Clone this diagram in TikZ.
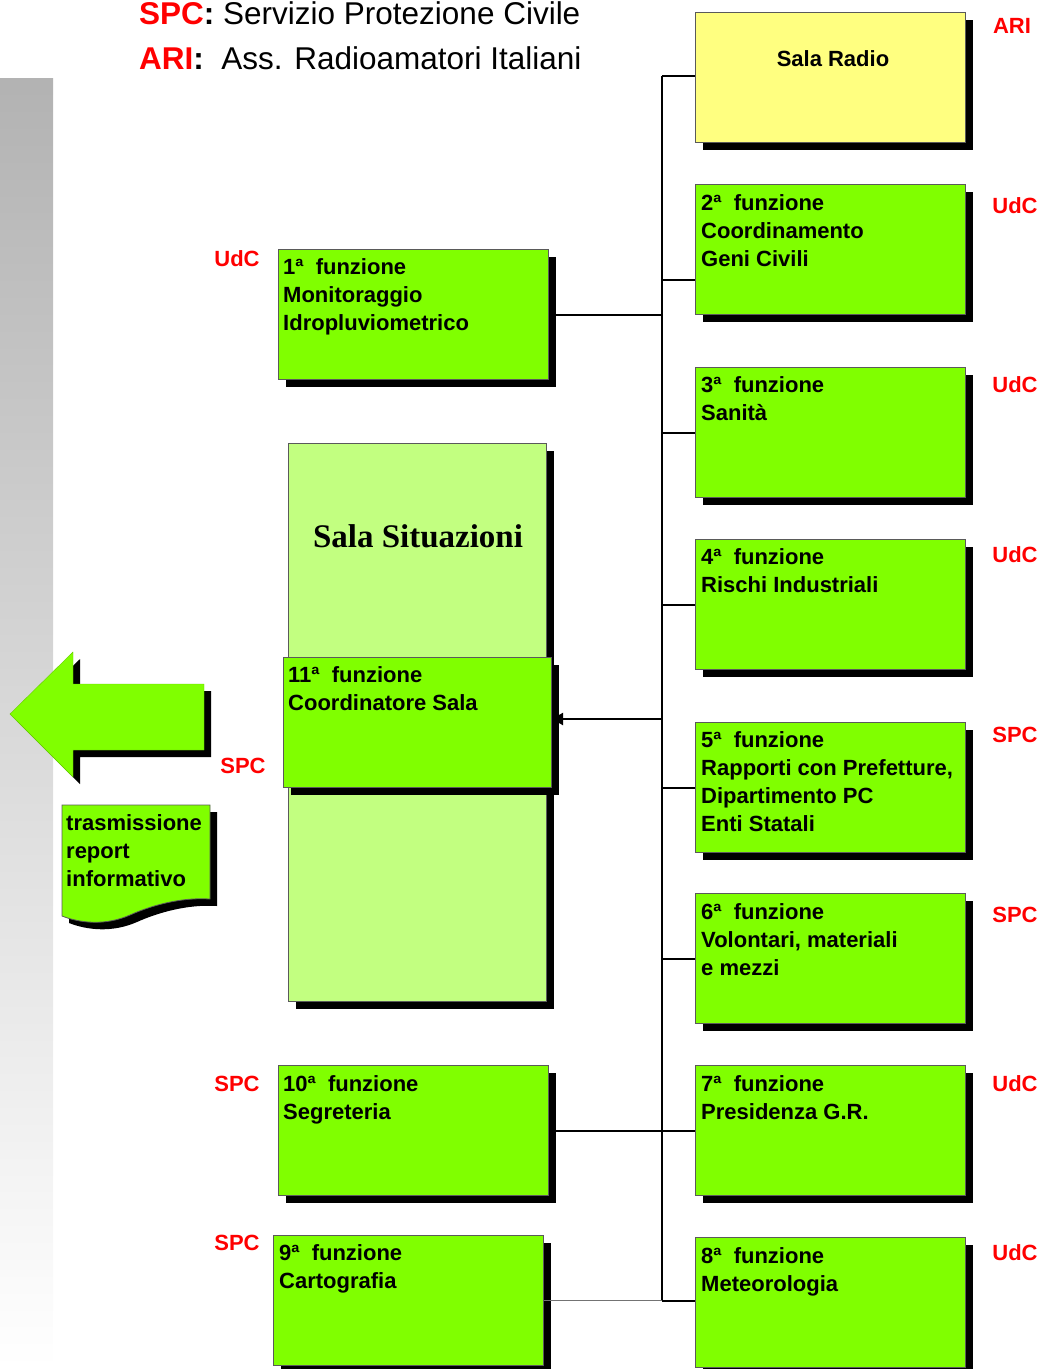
\documentclass[tikz,border=0pt]{standalone}
\usepackage{fontspec}
\setmainfont{Liberation Sans}
\newfontfamily\serifbold{Liberation Serif}
\usetikzlibrary{shadows,arrows.meta}
\definecolor{fgreen}{RGB}{128,255,0}
\definecolor{lgreen}{RGB}{194,255,128}
\definecolor{lyellow}{RGB}{255,255,128}
\definecolor{lred}{RGB}{255,0,0}
\definecolor{bordergray}{RGB}{90,90,90}
\newcommand{\boxfont}{\fontsize{22}{28}\selectfont\bfseries}
\begin{document}
\begin{tikzpicture}[x=1pt,y=-1pt,
  shad/.style={general shadow={fill=black, shadow xshift=7pt, shadow yshift=-7pt}},
  fbox/.style={shad, draw=bordergray, line width=1pt, fill=fgreen, anchor=north west,
     inner sep=0pt, minimum width=270pt, minimum height=130pt},
  ftext/.style={anchor=north west, inner sep=0pt, align=left, font=\boxfont},
  lab/.style={anchor=base, inner sep=0pt, text=lred, font=\fontsize{22}{26}\selectfont\bfseries},
  conn/.style={draw=black, line width=2pt},
  every node/.style={}]
\useasboundingbox (0,0) rectangle (1049,1369);
% gradient bar
\shade[top color=black!30, bottom color=white] (0,78) rectangle (53,1369);

% legend
\node[anchor=base west, inner sep=0pt, font=\fontsize{31.5}{34}\selectfont] (leg1) at (139,24)
  {\textbf{\textcolor{lred}{SPC}:} Servizio Protezione Civile};
\node[anchor=base west, inner sep=0pt, font=\fontsize{31.5}{34}\selectfont] (leg2) at (139,69)
  {\textbf{\textcolor{lred}{ARI}:}\ \ Ass. Radioamatori Italiani};

% right column
\node[fbox, fill=lyellow] (radio) at (695,12) {};
\node[inner sep=0pt, anchor=base, font=\boxfont] (radiot) at (833,66) {Sala Radio};
\node[fbox] (f2) at (695,184) {};
\node[fbox] (f3) at (695,367) {};
\node[fbox] (f4) at (695,539) {};
\node[fbox] (f5) at (695,722) {};
\node[fbox] (f6) at (695,893) {};
\node[fbox] (f7) at (695,1065) {};
\node[fbox] (f8) at (695,1237) {};

\node[ftext] (t2) at (701,194) {2ª\ \ funzione\\Coordinamento\\Geni Civili};
\node[ftext] (t3) at (701,376) {3ª\ \ funzione\\Sanità};
\node[ftext] (t4) at (701,548) {4ª\ \ funzione\\Rischi Industriali};
\node[ftext] (t5) at (701,731) {5ª\ \ funzione\\Rapporti con Prefetture,\\Dipartimento PC\\Enti Statali};
\node[ftext] (t6) at (701,903) {6ª\ \ funzione\\Volontari, materiali\\e mezzi};
\node[ftext] (t7) at (701,1075) {7ª\ \ funzione\\Presidenza G.R.};
\node[ftext] (t8) at (701,1247) {8ª\ \ funzione\\Meteorologia};

\node[lab] (lr) at (1012,33) {ARI};
\node[lab] (l2) at (1015,213) {UdC};
\node[lab] (l3) at (1015,392) {UdC};
\node[lab] (l4) at (1015,562) {UdC};
\node[lab] (l5) at (1015,742) {SPC};
\node[lab] (l6) at (1015,922) {SPC};
\node[lab] (l7) at (1015,1091) {UdC};
\node[lab] (l8) at (1015,1260) {UdC};

% left column
\node[fbox] (f1) at (278,249) {};
\node[ftext] (t1) at (283,258) {1ª\ \ funzione\\Monitoraggio\\Idropluviometrico};
\node[lab] (l1) at (237,266) {UdC};

\node[fbox, fill=lgreen, minimum width=258pt, minimum height=558pt] (sala) at (288,443) {};
\node[anchor=base, inner sep=0pt, font=\serifbold\fontsize{33}{36}\selectfont\bfseries] (salat) at (418,547) {Sala Situazioni};

\node[fbox, minimum width=268pt] (f11) at (283,657) {};
\node[ftext] (t11) at (288,666) {11ª\ \ funzione\\Coordinatore Sala};
\node[lab] (l11) at (243,773) {SPC};

\node[fbox] (f10) at (278,1065) {};
\node[ftext] (t10) at (283,1075) {10ª\ \ funzione\\Segreteria};
\node[lab] (l10) at (237,1091) {SPC};

\node[fbox] (f9) at (273,1235) {};
\node[ftext] (t9) at (279,1244) {9ª\ \ funzione\\Cartografia};
\node[lab] (l9) at (237,1250) {SPC};

% big arrow
\path[shad, fill=fgreen, draw=fgreen!80!black, line width=0.4pt]
  (10,714) -- (73,652) -- (73,684) -- (204,684) -- (204,750) -- (73,750) -- (73,777) -- cycle;

% document shape
\path[shad, fill=fgreen, draw=bordergray, line width=0.8pt]
  (62,805) -- (210,805) -- (210,899)
  .. controls (180,897) and (150,906) .. (130,915)
  .. controls (105,926) and (80,923) .. (62,916) -- cycle;
\node[ftext] (tdoc) at (66,814) {trasmissione\\report\\informativo};

% connectors
\coordinate (ttop) at (662,76);
\coordinate (tbot) at (662,1301);
\draw[conn] (ttop) -- (tbot);
\draw[conn] (ttop) -- (ttop -| radio.west);
\draw[conn] (662,280) -- (f2.west |- 0,280);
\draw[conn] (tbot |- f3.west) -- (f3.west);
\draw[conn] (tbot |- f4.west) -- (f4.west);
\draw[conn] (tbot |- f5.west) -- (f5.west);
\draw[conn] (tbot |- f6.west) -- (f6.west);
\draw[conn] (tbot |- f7.west) -- (f7.west);
\draw[conn] (tbot) -- (f8.west |- tbot);
\draw[conn] (f1.east) -- (tbot |- f1.east);
\draw[conn] (f10.east) -- (tbot |- f10.east);
\draw[draw=black!55, line width=1.6pt] (f9.east) -- (tbot |- f9.east);
\draw[conn, -{Triangle[length=11pt,width=12pt]}] (tbot |- 0,719) -- (f11.east |- 0,719);
\end{tikzpicture}
\end{document}
